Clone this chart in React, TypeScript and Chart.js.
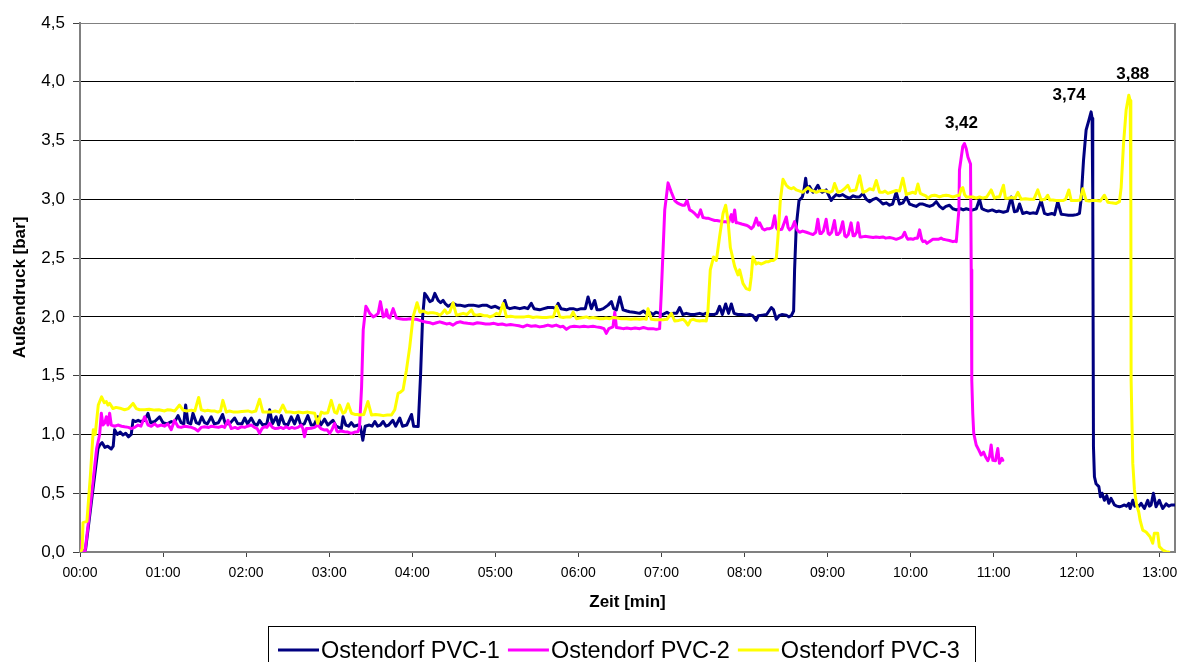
import { useEffect, useRef } from "react";
import { Chart, registerables } from "chart.js";

Chart.register(...registerables);

const FONT = '"Liberation Sans", Arial, Helvetica, sans-serif';

const seriesNames = ["Ostendorf PVC-1", "Ostendorf PVC-2", "Ostendorf PVC-3"];
const seriesColors = ["#000080", "#FF00FF", "#FFFF00"];
const peakLabels = [3.74, 3.42, 3.88];
const peakLabelDx = [-22, -3, 4];
const peakLabelDy = [-12, -15, -16];

const xTickMinutes = [0, 1, 2, 3, 4, 5, 6, 7, 8, 9, 10, 11, 12, 13];
const xAxisTitle = "Zeit [min]";
const yAxisTitle = "Außendruck [bar]";
const xMaxSeconds = 791;
const yMax = 4.5;

// [seconds, bar]
const pvc1: [number, number][] = [
  [0, 0], [4, 0.02], [9, 0.5], [13, 0.88], [14.2, 0.91], [16, 0.93], [18, 0.89], [20, 0.9], [22.6, 0.876], [24, 0.9],
  [25, 1.04], [27, 1.0], [29, 1.02], [31, 0.995], [33, 1.01], [35, 0.98], [37, 1.0], [38.3, 1.12], [40, 1.11], [42, 1.12],
  [44, 1.11], [46.7, 1.12], [49.1, 1.18], [51, 1.1], [54, 1.11], [57.5, 1.15], [60, 1.1], [63, 1.09], [66, 1.11], [68, 1.1],
  [70.8, 1.16], [73, 1.1], [75, 1.09], [76.3, 1.25], [78, 1.1], [80, 1.09], [81.6, 1.18], [84, 1.1], [86, 1.09], [88, 1.15],
  [90, 1.1], [92, 1.09], [94.8, 1.15], [97, 1.09], [100, 1.1], [103, 1.17], [105, 1.09], [108, 1.09], [111.7, 1.14], [114, 1.09],
  [117, 1.09], [119, 1.14], [121, 1.09], [123.7, 1.14], [126, 1.09], [128, 1.08], [129.7, 1.12], [132, 1.08], [135, 1.09], [137, 1.21],
  [139, 1.09], [141.7, 1.15], [143.5, 1.08], [145.4, 1.16], [147.5, 1.09], [150, 1.08], [152.6, 1.15], [155, 1.09], [157.4, 1.16], [159.5, 1.08],
  [162, 1.09], [164.6, 1.16], [167, 1.08], [169, 1.08], [171.8, 1.15], [174, 1.08], [176.7, 1.13], [179, 1.08], [182.7, 1.12], [185, 1.07],
  [188.8, 1.05], [190, 1.15], [192, 1.08], [194, 1.07], [196, 1.1], [198, 1.07], [201, 1.08], [202.5, 1.07], [204.3, 0.95], [206, 1.07],
  [209, 1.08], [211, 1.07], [213, 1.11], [215, 1.07], [217, 1.08], [219, 1.11], [221, 1.07], [223, 1.08], [226, 1.12], [228, 1.07],
  [231, 1.14], [233, 1.07], [236, 1.08], [239.5, 1.17], [241, 1.07], [244.3, 1.067], [246, 1.5], [247.5, 2.0], [249, 2.2], [250.8, 2.17],
  [252.7, 2.13], [254.5, 2.14], [256.3, 2.2], [258.7, 2.14], [260.5, 2.12], [262.3, 2.14], [264, 2.11], [266, 2.09], [269.5, 2.115], [272, 2.1],
  [274.4, 2.1], [278, 2.09], [281, 2.1], [284, 2.1], [288, 2.09], [291, 2.1], [293.6, 2.1], [297, 2.08], [300, 2.09], [303.3, 2.07],
  [305, 2.08], [306.9, 2.14], [308.5, 2.08], [310.5, 2.07], [314, 2.08], [317.7, 2.07], [321, 2.08], [323.5, 2.07], [326, 2.115], [328, 2.07],
  [332, 2.06], [335, 2.07], [338, 2.08], [341.8, 2.08], [343.5, 2.07], [345.4, 2.115], [347.5, 2.07], [351.4, 2.06], [354, 2.07], [356.2, 2.07],
  [359, 2.06], [362, 2.07], [365, 2.07], [367, 2.17], [369.4, 2.07], [371.8, 2.14], [373.5, 2.06], [375.4, 2.06], [378, 2.07], [381.5, 2.1],
  [383.9, 2.13], [385.5, 2.07], [387.5, 2.06], [389.9, 2.17], [392.3, 2.06], [395, 2.05], [397, 2.044], [400, 2.04], [404.3, 2.03], [407, 2.05],
  [409, 2.03], [411.5, 2.04], [414, 2.02], [416, 2.04], [418.7, 2.03], [421, 2.02], [424, 2.04], [426.5, 2.02], [428.4, 2.03], [431, 2.03],
  [433.2, 2.08], [435.5, 2.02], [438, 2.03], [441, 2.02], [444, 2.02], [447.6, 2.03], [450, 2.02], [452, 2.03], [455, 2.02], [458, 2.02],
  [460, 2.03], [462, 2.09], [464, 2.02], [466.4, 2.11], [468.5, 2.03], [470.5, 2.11], [472.5, 2.03], [475, 2.02], [478, 2.02], [481.3, 2.015],
  [484, 2.02], [486, 2.01], [488.5, 1.97], [490, 2.01], [493, 2.015], [496, 2.02], [499.4, 2.08], [501, 2.06], [503, 1.98], [505, 2.01],
  [507, 2.02], [510.2, 2.015], [512, 2.0], [513.8, 2.01], [515.5, 2.05], [516.2, 2.4], [517.4, 2.77], [519.4, 2.99], [521.8, 3.02], [523, 3.08],
  [524.2, 3.18], [525.4, 3.06], [527, 3.11], [529.5, 3.06], [531, 3.08], [533, 3.12], [535, 3.07], [536.2, 3.06], [539, 3.08], [542.7, 2.99],
  [544.5, 3.02], [546.3, 3.04], [548.5, 3.03], [551, 3.04], [553.5, 3.02], [556, 3.01], [558.5, 3.03], [560.8, 3.02], [563, 3.02], [565.6, 3.05],
  [568, 3.0], [570.4, 2.98], [573, 3.0], [575.2, 3.01], [577.5, 2.99], [580, 2.96], [582.5, 2.97], [584.8, 2.95], [587, 2.96], [589.6, 3.06],
  [592, 2.96], [594.5, 2.97], [596.9, 3.02], [599.3, 2.96], [601.5, 2.95], [604, 2.94], [606.5, 2.96], [608.9, 2.96], [611, 2.95], [613.7, 2.94],
  [616, 2.95], [618.5, 2.98], [621, 2.94], [623.3, 2.92], [625.5, 2.94], [628.1, 2.95], [630.5, 2.92], [633, 2.91], [636, 2.92], [638, 2.91],
  [640.2, 2.92], [643, 2.91], [645, 2.91], [647.5, 2.92], [649.8, 3.0], [651.5, 2.92], [653.4, 2.91], [656, 2.9], [659, 2.91], [661.8, 2.895],
  [664, 2.9], [667, 2.89], [670, 2.9], [672.7, 3.02], [675, 2.895], [677, 2.9], [678.7, 2.96], [681, 2.88], [684, 2.89], [686, 2.88],
  [688.3, 2.885], [691, 2.88], [694.3, 2.99], [696.7, 2.88], [699, 2.87], [702, 2.88], [704, 2.87], [706.3, 2.98], [708.8, 2.874], [711, 2.87],
  [714, 2.865], [717.2, 2.865], [720, 2.87], [722, 2.88], [723.2, 3.0], [724.9, 3.33], [726.8, 3.59], [728.7, 3.67], [730.4, 3.744], [731.1, 3.69],
  [731.6, 3.0], [732.1, 0.895], [732.8, 0.64], [734, 0.58], [736, 0.556], [737.1, 0.47], [738.3, 0.5], [740, 0.44], [741.7, 0.48], [743.2, 0.414],
  [744.8, 0.456], [747.3, 0.4], [749, 0.39], [750.9, 0.385], [752.5, 0.39], [754.5, 0.4], [756, 0.39], [757.6, 0.414], [758.6, 0.37], [760.5, 0.44],
  [762, 0.39], [763, 0.4], [765, 0.39], [766.5, 0.414], [768.9, 0.37], [771.3, 0.44], [772.5, 0.39], [773.7, 0.4], [775.4, 0.5], [777.3, 0.385],
  [779.7, 0.44], [781, 0.4], [782.2, 0.37], [784.6, 0.41], [786.5, 0.39], [788.2, 0.4], [790.8, 0.4],
];

const pvc2: [number, number][] = [
  [0, 0], [0.7, 0.09], [1.5, 0], [3.6, 0], [8, 0.45], [12, 0.88], [14.2, 1.0], [15.4, 1.18], [16.6, 1.08], [18, 1.1],
  [19, 1.15], [20.2, 1.08], [21.4, 1.18], [22.6, 1.08], [25, 1.07], [27.4, 1.08], [30, 1.07], [32.2, 1.065], [35, 1.06], [37, 1.05],
  [39.5, 1.06], [41.9, 1.08], [44, 1.07], [46.7, 1.15], [49.1, 1.08], [51.5, 1.07], [53.9, 1.09], [56, 1.07], [58.7, 1.08], [61, 1.07],
  [63.5, 1.09], [65.9, 1.04], [68.3, 1.12], [70.8, 1.065], [73, 1.06], [75.5, 1.07], [78, 1.065], [80.5, 1.06], [82.8, 1.05], [85.2, 1.03],
  [87.5, 1.06], [90, 1.065], [93, 1.06], [95, 1.07], [97.2, 1.065], [100, 1.06], [102.5, 1.07], [104.5, 1.06], [106.9, 1.12], [109.3, 1.05],
  [112, 1.06], [114, 1.05], [116.5, 1.065], [119, 1.06], [121, 1.07], [123.7, 1.08], [126, 1.06], [128, 1.05], [129.7, 1.01], [131.5, 1.05],
  [133.3, 1.065], [135, 1.06], [137, 1.094], [139, 1.06], [141, 1.05], [143, 1.052], [145, 1.06], [147, 1.05], [149, 1.065], [151, 1.05],
  [153, 1.06], [155, 1.052], [157.5, 1.06], [159.8, 1.08], [161, 1.05], [162.2, 0.98], [163.5, 1.05], [165, 1.05], [167, 1.052], [169.5, 1.06],
  [171.8, 1.08], [174, 1.05], [176.7, 1.037], [178.5, 1.04], [180.3, 1.009], [182, 1.04], [183.9, 1.094], [185.5, 1.03], [186.3, 1.02], [188.5, 1.03],
  [191.1, 1.023], [193.5, 1.02], [196, 1.009], [198.5, 1.02], [200.7, 1.023], [201.9, 1.06], [203.4, 1.4], [204.6, 1.89], [206.5, 2.09], [208, 2.06],
  [209.3, 2.03], [211.8, 2.0], [213.5, 2.01], [215.4, 2.03], [217, 2.13], [219, 2.0], [220.5, 2.01], [221.4, 2.06], [222.5, 2.0], [223.8, 1.99],
  [226.2, 2.07], [228.6, 1.99], [231, 1.985], [233.5, 1.98], [235.8, 1.98], [238.5, 1.985], [241, 1.98], [243, 1.98], [245.5, 1.97], [247.9, 1.96],
  [250.5, 1.955], [253, 1.95], [255, 1.94], [257.5, 1.95], [259.9, 1.958], [262, 1.95], [264.7, 1.94], [267, 1.945], [269.5, 1.93], [272, 1.95],
  [274.4, 1.958], [277, 1.95], [280, 1.945], [284, 1.94], [287, 1.95], [290, 1.945], [293, 1.94], [296, 1.94], [299, 1.945], [302, 1.935],
  [305, 1.94], [308, 1.93], [311, 1.935], [314, 1.93], [317, 1.925], [320, 1.915], [323, 1.93], [326, 1.92], [329, 1.925], [332, 1.915],
  [335, 1.92], [338, 1.93], [341, 1.92], [344, 1.93], [347, 1.915], [349, 1.92], [351.4, 1.894], [354, 1.915], [357, 1.92], [361, 1.915],
  [364, 1.92], [367, 1.915], [370.6, 1.92], [373, 1.915], [376, 1.91], [378.5, 1.9], [380.2, 1.86], [382, 1.9], [385, 1.915], [386.3, 2.04],
  [387.5, 1.91], [390, 1.905], [392.3, 1.9], [395, 1.905], [398, 1.9], [401, 1.905], [404.3, 1.9], [407, 1.91], [410, 1.9], [413.9, 1.9],
  [416.3, 1.894], [418.7, 1.9], [419.9, 2.2], [422.4, 2.91], [424.8, 3.14], [427.2, 3.06], [429.6, 2.99], [431.5, 2.97], [433.2, 2.96], [435, 2.95],
  [436.8, 2.95], [438.5, 2.99], [440.4, 2.91], [442, 2.9], [444, 2.88], [446.4, 2.85], [448.3, 2.91], [450, 2.845], [452, 2.84], [453.6, 2.84],
  [456, 2.83], [458.5, 2.82], [460, 2.82], [462, 2.815], [464.5, 2.81], [466.9, 2.81], [468.5, 2.8], [470.5, 2.87], [471.5, 2.81], [472.9, 2.91],
  [474, 2.8], [475.3, 2.8], [478, 2.79], [481.3, 2.78], [483, 2.77], [484.9, 2.75], [486.5, 2.77], [488.5, 2.84], [490, 2.78], [491, 2.8],
  [493, 2.75], [494.6, 2.74], [496.5, 2.75], [498.2, 2.75], [500, 2.76], [501.8, 2.86], [503, 2.76], [504.2, 2.74], [507, 2.745], [510.2, 2.85],
  [511.5, 2.76], [512.6, 2.74], [514.5, 2.76], [516.2, 2.81], [518, 2.74], [519.8, 2.72], [522, 2.73], [524.7, 2.72], [527, 2.71], [529.5, 2.7],
  [531.5, 2.72], [533, 2.83], [534.5, 2.71], [535.5, 2.71], [537, 2.73], [539, 2.83], [540.5, 2.71], [541.5, 2.7], [543, 2.72], [545, 2.82],
  [546.5, 2.7], [547.5, 2.7], [549, 2.72], [551, 2.81], [552.5, 2.69], [553.5, 2.68], [555, 2.7], [557, 2.8], [558.5, 2.69], [559.5, 2.69],
  [561, 2.72], [562, 2.8], [563.5, 2.68], [564.4, 2.68], [567, 2.685], [570.4, 2.68], [573, 2.675], [575, 2.68], [577.6, 2.675], [580, 2.68],
  [582, 2.67], [584.8, 2.675], [587, 2.67], [589.6, 2.66], [592, 2.67], [594, 2.68], [595.7, 2.72], [597, 2.68], [598, 2.66], [600, 2.665],
  [601.7, 2.66], [603.5, 2.67], [605, 2.67], [606.5, 2.74], [608, 2.66], [608.9, 2.64], [610.5, 2.645], [611.8, 2.625], [613.5, 2.64], [616.1, 2.66],
  [618, 2.66], [620, 2.66], [622, 2.67], [623.5, 2.66], [625.7, 2.655], [628, 2.65], [630.6, 2.64], [632, 2.645], [633, 2.64], [634.9, 2.91],
  [635.3, 3.25], [637.7, 3.45], [638.9, 3.475], [640.2, 3.43], [641.4, 3.36], [643.3, 3.3], [643.8, 2.4], [644.2, 1.46], [644.9, 1.18], [645.6, 1.01],
  [647.4, 0.91], [649.3, 0.867], [651, 0.825], [652.7, 0.85], [654.1, 0.81], [655.8, 0.776], [657, 0.81], [658.2, 0.91], [659.4, 0.78], [661.3, 0.776],
  [663, 0.88], [664.2, 0.754], [665.9, 0.796], [666.6, 0.78],
];

const pvc3: [number, number][] = [
  [0, 0], [1.5, 0.02], [2.2, 0.25], [5, 0.26], [7.5, 0.65], [9.6, 1.04], [11, 1.0], [13.2, 1.25], [15.6, 1.32], [17.5, 1.27],
  [19, 1.28], [20.2, 1.25], [21.4, 1.265], [23.8, 1.22], [26, 1.23], [29.8, 1.22], [32.2, 1.21], [35, 1.22], [38.3, 1.264], [40.7, 1.22],
  [43, 1.21], [46.7, 1.21], [50, 1.215], [53.9, 1.207], [57, 1.21], [61.1, 1.2], [63, 1.21], [65.9, 1.207], [68.5, 1.2], [71.9, 1.25],
  [74.4, 1.207], [77, 1.2], [80.4, 1.207], [83, 1.2], [85.7, 1.315], [87.6, 1.21], [90, 1.2], [92, 1.205], [94.8, 1.2], [97, 1.2],
  [99.6, 1.19], [101.5, 1.2], [103.2, 1.29], [105.7, 1.19], [108, 1.2], [111, 1.19], [114, 1.19], [117, 1.195], [121.3, 1.2], [124, 1.19],
  [127, 1.2], [129.7, 1.3], [132.1, 1.19], [135, 1.19], [138.1, 1.19], [141, 1.2], [144, 1.19], [146.6, 1.25], [149, 1.19], [152, 1.19],
  [155, 1.185], [158, 1.19], [161, 1.185], [164.6, 1.19], [167, 1.185], [169.5, 1.18], [171.8, 1.094], [174.3, 1.19], [176.5, 1.18], [179, 1.185],
  [181.5, 1.29], [183.9, 1.19], [185.5, 1.18], [187.5, 1.25], [189.9, 1.18], [191.5, 1.19], [193.7, 1.26], [196.1, 1.18], [198.5, 1.17], [200.5, 1.17],
  [202, 1.165], [205, 1.17], [208, 1.28], [210.6, 1.165], [213.5, 1.17], [216.6, 1.165], [219, 1.16], [222, 1.165], [225, 1.165], [227.4, 1.21],
  [229.8, 1.35], [231.5, 1.36], [233.4, 1.38], [235.8, 1.547], [238.2, 1.745], [240.6, 2.0], [243.5, 2.12], [245.5, 2.04], [247.9, 2.05], [249.5, 2.04],
  [251.5, 2.03], [253, 2.035], [255, 2.035], [257.5, 2.03], [259.9, 2.015], [261.5, 2.03], [263.5, 2.06], [265, 2.03], [267.1, 2.04], [269.5, 2.12],
  [271.9, 2.015], [274, 2.02], [276.8, 2.03], [279.5, 2.02], [282.8, 2.06], [284.5, 2.02], [286.4, 2.015], [289, 2.02], [292, 2.01], [294, 2.01],
  [296, 2.0], [298.5, 2.01], [300.8, 2.03], [303, 2.02], [305.7, 2.115], [308, 2.0], [311, 2.005], [314, 2.0], [317.7, 2.0], [321, 2.0],
  [324, 2.005], [327.3, 1.995], [330, 2.0], [334, 1.995], [337, 1.995], [340, 2.0], [342, 2.0], [344.2, 2.09], [346.6, 2.0], [349, 1.995],
  [352, 2.0], [354.5, 2.0], [356.2, 2.04], [358.6, 1.985], [361, 1.99], [363.5, 1.995], [365.8, 2.0], [368, 1.99], [370.6, 1.995], [373, 1.99],
  [375.5, 1.985], [377.8, 1.985], [380, 1.99], [382.5, 1.985], [385, 1.995], [388, 1.99], [391, 1.985], [394.7, 1.985], [398, 1.98], [401, 1.985],
  [404.3, 1.98], [407, 1.985], [409.1, 1.98], [410.3, 2.07], [412.7, 1.98], [415.5, 1.975], [418.7, 1.975], [421, 1.975], [424, 1.98], [427.2, 2.03],
  [429.6, 1.965], [432.5, 1.97], [435.6, 1.98], [437.5, 1.96], [439.2, 1.93], [441, 1.97], [442.8, 1.98], [445, 1.97], [447.6, 1.965], [450, 1.97],
  [452.4, 1.965], [453.6, 2.05], [455.3, 2.4], [457.7, 2.51], [459.7, 2.48], [462, 2.68], [464.5, 2.88], [466.4, 2.95], [468.1, 2.82], [469.8, 2.59],
  [472.9, 2.43], [475.3, 2.357], [476.5, 2.4], [478.9, 2.285], [481.3, 2.24], [483.7, 2.23], [484.9, 2.34], [486.1, 2.51], [488.5, 2.45], [490, 2.46],
  [492.2, 2.45], [494, 2.46], [495.8, 2.47], [497.5, 2.47], [499.4, 2.48], [501, 2.48], [503, 2.5], [504.2, 2.68], [505.9, 2.99], [507.8, 3.17],
  [510.2, 3.12], [512, 3.1], [513.8, 3.09], [515.5, 3.1], [517.4, 3.08], [520, 3.07], [522.2, 3.06], [524, 3.08], [525.9, 3.1], [528.3, 3.075],
  [530, 3.07], [531.9, 3.06], [534, 3.07], [536.7, 3.075], [539, 3.07], [541.5, 3.06], [543.5, 3.07], [545.1, 3.135], [547.5, 3.06], [550, 3.07],
  [552.3, 3.09], [554.7, 3.12], [556.5, 3.07], [558.3, 3.075], [560.5, 3.08], [563.2, 3.2], [565.6, 3.06], [568, 3.07], [570.4, 3.09], [573, 3.08],
  [575.2, 3.16], [577.6, 3.06], [580, 3.06], [581.5, 3.07], [583.6, 3.05], [586, 3.06], [589.6, 3.075], [592, 3.07], [594.4, 3.18], [596.9, 3.04],
  [599, 3.05], [601.7, 3.06], [603.5, 3.05], [605.3, 3.13], [607, 3.05], [608.9, 3.04], [611, 3.03], [612.5, 3.01], [615, 3.03], [617.3, 3.035],
  [619, 3.03], [620.9, 3.02], [623, 3.03], [625.7, 3.035], [628.1, 3.03], [630.6, 3.02], [633, 3.03], [635.3, 3.035], [636.6, 3.09], [637.7, 3.1],
  [639, 3.04], [640.2, 3.02], [642.6, 3.02], [645, 3.02], [647.4, 3.01], [649.8, 3.02], [652.2, 3.01], [655, 3.02], [658.2, 3.08], [660.6, 3.01],
  [662.5, 3.02], [664.2, 3.02], [667.1, 3.12], [668.5, 3.01], [670.2, 3.01], [673, 3.015], [675.5, 3.01], [677.5, 3.06], [679.9, 3.0], [683, 3.005],
  [685.9, 3.0], [689, 3.0], [691.9, 3.08], [694.3, 2.995], [697, 3.0], [699.1, 3.035], [700.5, 2.995], [702.7, 2.995], [705, 2.99], [707.6, 2.99],
  [710, 2.99], [712, 3.0], [714.3, 3.08], [716, 2.99], [717.2, 2.99], [720, 2.99], [722.5, 2.995], [724.4, 3.09], [726.8, 2.99], [729, 2.985],
  [731, 2.99], [734, 2.99], [737, 2.985], [740, 3.035], [742.5, 2.975], [745, 2.97], [748.5, 2.965], [750.9, 2.98], [752.1, 3.1], [753.8, 3.47],
  [755.7, 3.76], [757.6, 3.886], [758.6, 3.84], [759.1, 3.0], [759.3, 1.46], [760.5, 0.756], [761.7, 0.53], [763.3, 0.4], [764.8, 0.34], [765.8, 0.27],
  [767.7, 0.186], [770.1, 0.17], [773, 0.13], [774.9, 0.074], [776.1, 0.16], [778.5, 0.16], [779.7, 0.045], [782.2, 0.017], [784.6, 0.003], [786.5, 0],
];

const seriesData = [pvc1, pvc2, pvc3];

function fmtComma(v: number, d: number) {
  return v.toFixed(d).replace(".", ",");
}

const frameAndLabels = {
  id: "frameAndLabels",
  beforeDatasetsDraw(chart: any) {
    const { ctx, chartArea } = chart;
    ctx.save();
    ctx.strokeStyle = "#808080";
    ctx.lineWidth = 2;
    ctx.beginPath();
    ctx.moveTo(chartArea.right, chartArea.top);
    ctx.lineTo(chartArea.right, chartArea.bottom);
    ctx.stroke();
    ctx.restore();
  },
  afterDatasetsDraw(chart: any) {
    const { ctx } = chart;
    ctx.save();
    ctx.font = `bold 17px ${FONT}`;
    ctx.fillStyle = "#000";
    ctx.textAlign = "center";
    ctx.textBaseline = "alphabetic";
    chart.data.datasets.forEach((ds: any, i: number) => {
      const meta = chart.getDatasetMeta(i);
      let best = 0;
      ds.data.forEach((p: any, j: number) => {
        if (p.y > ds.data[best].y) best = j;
      });
      const el = meta.data[best];
      if (!el) return;
      ctx.fillText(fmtComma(peakLabels[i], 2), el.x + peakLabelDx[i], el.y + peakLabelDy[i]);
    });
    ctx.restore();
  },
  afterDraw(chart: any) {
    const { ctx } = chart;
    ctx.save();
    ctx.strokeStyle = "#000";
    ctx.lineWidth = 1;
    ctx.strokeRect(268.5, 626.5, 707, 60);
    ctx.font = `23.5px ${FONT}`;
    ctx.textBaseline = "alphabetic";
    ctx.textAlign = "left";
    let x = 278;
    seriesNames.forEach((name, i) => {
      ctx.strokeStyle = seriesColors[i];
      ctx.lineWidth = 3;
      ctx.beginPath();
      ctx.moveTo(x, 650);
      ctx.lineTo(x + 41, 650);
      ctx.stroke();
      ctx.fillStyle = "#000";
      ctx.fillText(name, x + 43, 658);
      x += 43 + ctx.measureText(name).width + 8;
    });
    ctx.restore();
  },
};

export default function App() {
  const ref = useRef<HTMLCanvasElement | null>(null);

  useEffect(() => {
    if (!ref.current) return;
    const order = [2, 1, 0];
    const chart = new Chart(ref.current, {
      type: "line",
      data: {
        datasets: seriesNames.map((name, i) => ({
          label: name,
          data: seriesData[i].map(([x, y]) => ({ x, y })),
          borderColor: seriesColors[i],
          backgroundColor: seriesColors[i],
          borderWidth: 3,
          pointRadius: 0,
          tension: 0,
          fill: false,
          borderJoinStyle: "round" as const,
          borderCapStyle: "round" as const,
          order: order[i],
        })),
      },
      options: {
        responsive: false,
        animation: false,
        events: [],
        layout: { padding: { left: 0, right: 6, top: 23, bottom: 0 } },
        plugins: {
          legend: { display: false },
          tooltip: { enabled: false },
        },
        scales: {
          x: {
            type: "linear",
            min: 0,
            max: xMaxSeconds,
            afterBuildTicks: (scale: any) => {
              scale.ticks = xTickMinutes.map((m) => ({ value: m * 60 }));
            },
            afterFit: (scale: any) => {
              scale.height = 110;
              scale.paddingRight = 0;
            },
            ticks: {
              autoSkip: false,
              maxRotation: 0,
              padding: 8,
              color: "#000",
              font: { family: FONT, size: 14 },
              callback: (v: any) => `${String(Math.round(Number(v) / 60)).padStart(2, "0")}:00`,
            },
            grid: {
              drawOnChartArea: false,
              drawTicks: true,
              tickLength: 5,
              tickColor: "#404040",
            },
            border: { display: true, color: "#808080", width: 2 },
            title: {
              display: true,
              text: xAxisTitle,
              color: "#000",
              font: { family: FONT, size: 17, weight: "bold" },
              padding: { top: 0, bottom: 49 },
            },
          },
          y: {
            type: "linear",
            min: 0,
            max: yMax,
            afterFit: (scale: any) => {
              scale.width = 80;
            },
            ticks: {
              stepSize: 0.5,
              padding: 8,
              color: "#000",
              font: { family: FONT, size: 17 },
              callback: (v: any) => fmtComma(Number(v), 1),
            },
            grid: {
              drawTicks: true,
              tickLength: 7,
              tickColor: "#404040",
              lineWidth: 1,
              color: (c: any) =>
                c.tick && Math.abs(c.tick.value - yMax) < 1e-6 ? "#808080" : "#000000",
            },
            border: { display: true, color: "#808080", width: 2 },
            title: {
              display: true,
              text: yAxisTitle,
              color: "#000",
              font: { family: FONT, size: 17, weight: "bold" },
              padding: { top: 10, bottom: 0 },
            },
          },
        },
      },
      plugins: [frameAndLabels],
    });
    return () => chart.destroy();
  }, []);

  return (
    <div style={{ position: "absolute", left: 0, top: 0, width: 1181, height: 662, background: "#fff" }}>
      <canvas ref={ref} width={1181} height={662} style={{ display: "block" }} />
    </div>
  );
}
